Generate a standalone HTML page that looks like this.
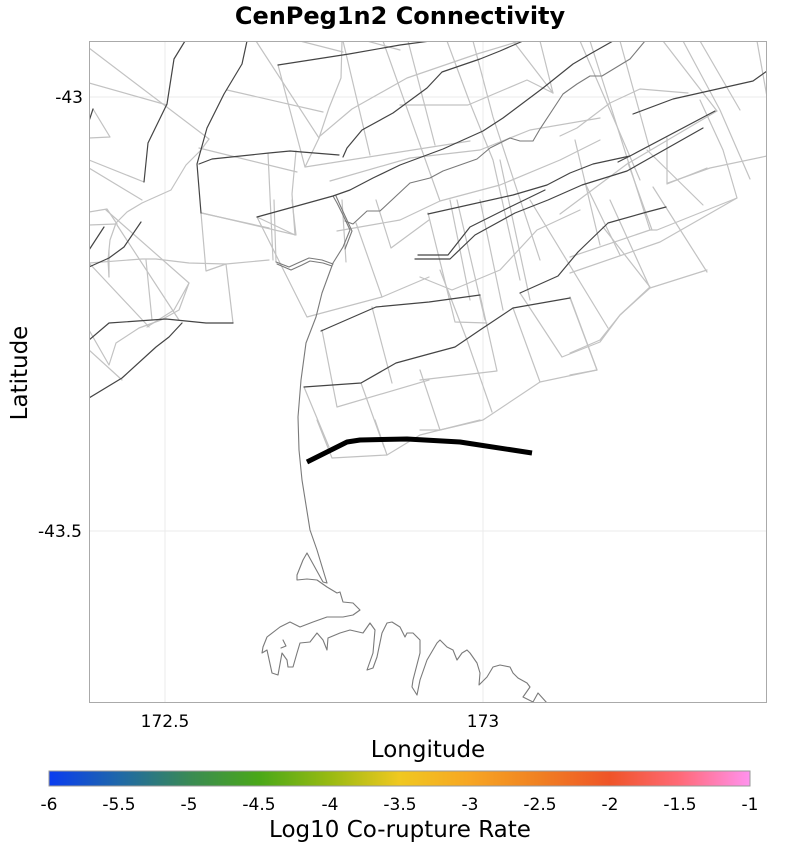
<!DOCTYPE html>
<html>
<head>
<meta charset="utf-8">
<style>
html,body{margin:0;padding:0;background:#fff;}
svg{display:block;}
text{font-family:"DejaVu Sans","Liberation Sans",sans-serif;fill:#000;}
</style>
</head>
<body>
<svg width="800" height="851" viewBox="0 0 800 851" xmlns="http://www.w3.org/2000/svg">
<defs>
<linearGradient id="cb" x1="0" y1="0" x2="1" y2="0">
<stop offset="0" stop-color="#0a3cf0"/>
<stop offset="0.1" stop-color="#1f68a8"/>
<stop offset="0.2" stop-color="#3a8a55"/>
<stop offset="0.3" stop-color="#4aa818"/>
<stop offset="0.4" stop-color="#98ba12"/>
<stop offset="0.5" stop-color="#f0c820"/>
<stop offset="0.6" stop-color="#f7a623"/>
<stop offset="0.7" stop-color="#f08022"/>
<stop offset="0.8" stop-color="#ef5428"/>
<stop offset="0.9" stop-color="#ff6a78"/>
<stop offset="1" stop-color="#ff92ee"/>
</linearGradient>
<clipPath id="pc"><rect x="89" y="41" width="678" height="662"/></clipPath>
</defs>

<!-- title -->
<text x="400" y="24" font-size="24" font-weight="bold" text-anchor="middle">CenPeg1n2 Connectivity</text>

<!-- plot area -->
<rect x="89" y="41" width="678" height="662" fill="#fff"/>
<g stroke="#ebebeb" stroke-width="1">
<line x1="165" y1="41" x2="165" y2="703"/>
<line x1="483" y1="41" x2="483" y2="703"/>
<line x1="89" y1="97" x2="767" y2="97"/>
<line x1="89" y1="531" x2="767" y2="531"/>
</g>

<g clip-path="url(#pc)" fill="none" stroke-linejoin="round" stroke-linecap="round">
<!-- light section lines -->
<g stroke="#c2c2c2" stroke-width="1.2">
<polyline points="89,48 209,139"/>
<polyline points="89,83 167,105"/>
<polyline points="93,109 110,137 89,138"/>
<polyline points="89,160 144,182"/>
<polyline points="89,168 142,200"/>
<polyline points="209,139 201,150 186,165 171,190 142,203 127,212 116,223 110,240 108,260 109,277"/>
<polyline points="89,225 116,224"/>
<polyline points="89,212 107,209 117,224"/>
<polyline points="227,90 323,112"/>
<polyline points="199,148 297,172"/>
<polyline points="256,41 319,138"/>
<polyline points="342,41 341,78 329,108 319,138 305,167"/>
<polyline points="278,65 305,167 400,152 470,141"/>
<polyline points="268,153 273,260"/>
<polyline points="296,151 292,194 295,235 257,217"/>
<polyline points="201,213 269,228"/>
<polyline points="201,213 206,271 226,264 269,260"/>
<polyline points="89,263 142,259 156,259 189,263 226,264 233,323"/>
<polyline points="106,210 189,283 174,310 147,327"/>
<polyline points="146,260 152,320"/>
<polyline points="117,225 179,320"/>
<polyline points="89,263 149,327"/>
<polyline points="89,330 109,365 116,343 139,328 161,320 179,310 189,283"/>
<polyline points="89,350 122,380"/>
<polyline points="109,250 109,277"/>
<polyline points="257,217 307,317 382,297 429,277"/>
<polyline points="274,200 276,262"/>
<polyline points="202,213 296,235 292,200"/>
<polyline points="342,200 346,262"/>
<polyline points="376,200 391,248 429,220"/>
<polyline points="322,330 337,407 429,380"/>
<polyline points="372,307 392,383"/>
<polyline points="304,387 329,447"/>
<polyline points="361,383 384,447"/>
<polyline points="356,223 382,297"/>
<polyline points="317,420 332,458 387,455 375,420"/>
<polyline points="387,455 420,435 480,420"/>
<polyline points="300,41 343,52"/>
<polyline points="367,41 400,50"/>
<polyline points="320,136 352,109 407,78 477,54 520,41"/>
<polyline points="343,41 370,155"/>
<polyline points="383,41 440,201"/>
<polyline points="408,41 435,145"/>
<polyline points="447,41 470,103 493,160 520,280"/>
<polyline points="473,41 493,117 540,260"/>
<polyline points="513,41 553,93"/>
<polyline points="540,41 553,93"/>
<polyline points="400,105 468,105 527,80 553,93"/>
<polyline points="580,41 613,117 640,180"/>
<polyline points="330,181 410,158 480,150 530,130 600,118"/>
<polyline points="337,231 400,220 440,201 500,185 560,160 600,140"/>
<!-- middle / right -->
<polyline points="428,213 455,322 487,323"/>
<polyline points="420,380 497,371 480,295"/>
<polyline points="420,277 452,290 500,270 537,230 580,210"/>
<polyline points="480,200 503,310"/>
<polyline points="457,200 485,320"/>
<polyline points="420,430 440,430 483,420 540,382 597,370"/>
<polyline points="440,430 420,370"/>
<polyline points="492,412 467,340 440,270"/>
<polyline points="540,382 513,308"/>
<polyline points="520,293 562,357 600,342 620,315 650,288 707,270"/>
<polyline points="597,370 570,298"/>
<polyline points="608,328 530,200"/>
<polyline points="650,288 610,200"/>
<polyline points="707,272 653,187"/>
<polyline points="560,214 627,164 717,111"/>
<polyline points="590,41 650,230"/>
<polyline points="575,140 600,245"/>
<polyline points="585,183 620,255"/>
<polyline points="628,163 652,230"/>
<polyline points="570,257 650,230 657,230 737,198 723,150 700,100"/>
<polyline points="647,150 703,205"/>
<polyline points="668,183 710,168 767,156"/>
<polyline points="683,41 720,110 750,179"/>
<polyline points="663,41 717,111"/>
<polyline points="570,273 660,242 737,198"/>
<polyline points="603,227 650,287"/>
<polyline points="650,287 620,315 600,340 570,353"/>
<polyline points="570,297 597,370 570,375"/>
<polyline points="560,136 577,128 610,103 640,89 688,93"/>
<polyline points="667,138 667,184 707,168"/>
<polyline points="757,41 767,97"/>
<polyline points="620,41 650,150"/>
<polyline points="700,41 740,110"/>
<polyline points="500,160 530,300"/>
<polyline points="450,200 470,300"/>
</g>

<!-- coastline -->
<g stroke="#7a7a7a" stroke-width="1.1">
<polyline points="333,196 337,203 343,215 350,230 343,247 333,263 322,293 316,317 306,343 301,380 298,417 299,450 302,480 310,530 317,550 327,583"/>
<polyline points="336,196 340,205 346,218 352,231 345,249"/>
<polyline points="276,262 289,267 300,262 309,258 322,260 333,264"/>
<polyline points="277,264 291,270 302,265 310,261 323,263 332,266"/>
<polyline points="345,221 353,224 367,211 380,211 410,183 430,178 443,171 477,159 490,148 510,138 520,141 533,141 540,129 563,94 577,84 590,76 602,76 630,59 645,41"/>
<polyline points="327,583 323,582 307,553 303,560 297,575 297,580 307,579 317,580 327,587 337,593 340,592 343,602 353,603 360,610 353,615 343,617 327,617 313,622 300,627 290,622 280,627 267,637 263,647 262,653 267,650 272,673 278,675 282,653 287,660 288,667 293,667 297,653 300,643 310,642 317,633 323,640 327,650 328,638 340,633 350,630 363,633 370,623 375,630 373,653 367,670 373,668 377,657 382,633 387,623 392,622 400,627 405,637 407,633 413,633 420,640 420,653 413,680 412,687 417,695 420,680 427,660 437,643 440,640 447,647 453,650 457,660 462,653 467,650 470,653 477,663 480,673 479,685 487,677 493,667 500,665 510,667 513,673 518,678 527,683 530,687 523,697 533,702 538,693 547,703"/>
<polyline points="283,640 286,646 281,648"/>
</g>

<!-- dark fault traces -->
<g stroke="#444" stroke-width="1.2">
<polyline points="185,41 174,59 167,104 148,143 144,182"/>
<polyline points="247,41 242,64 224,94 207,128 197,164 201,213"/>
<polyline points="199,164 212,159 269,153 290,151 302,152 339,155"/>
<polyline points="278,65 349,54 400,45 430,41"/>
<polyline points="257,217 333,196 350,190 373,178 400,165 443,149 483,131 503,118 543,88 573,64 590,54 613,41"/>
<polyline points="343,157 347,148 362,130 393,113 427,88 442,72 480,59 500,51 523,41"/>
<polyline points="428,214 513,195 547,185 570,173 593,164 630,156 715,111"/>
<polyline points="618,162 630,156"/>
<polyline points="415,259 450,259 475,235 515,213 548,200 582,185 627,171 703,128"/>
<polyline points="418,255 448,255 470,227 510,207 545,190"/>
<polyline points="633,114 673,99 753,81 767,71"/>
<polyline points="520,293 558,276 578,252 608,223 647,212 666,207"/>
<polyline points="321,331 376,307 429,302 480,295"/>
<polyline points="304,387 361,383 396,363 429,354 455,347 480,330 513,308 570,298"/>
<polyline points="89,250 104,227"/>
<polyline points="89,267 109,258 124,247 141,222"/>
<polyline points="89,340 109,323 166,319 206,323 233,323"/>
<polyline points="89,398 122,378 156,347 169,337 182,323"/>
<polyline points="89,121 93,109"/>
</g>

<!-- highlighted section -->
<polyline points="307,462 347,442 360,440 407,439 460,442 473,444 532,453" stroke="#000" stroke-width="5" stroke-linecap="butt"/>
</g>

<rect x="89.5" y="41.5" width="677" height="661" fill="none" stroke="#aaa" stroke-width="1"/>

<!-- axis tick labels -->
<text x="165" y="727" font-size="17" text-anchor="middle">172.5</text>
<text x="483" y="727" font-size="17" text-anchor="middle">173</text>
<text x="83" y="103" font-size="17" text-anchor="end">-43</text>
<text x="82" y="537" font-size="17" text-anchor="end">-43.5</text>

<!-- axis titles -->
<text x="428" y="757" font-size="23" text-anchor="middle">Longitude</text>
<text transform="translate(27,373) rotate(-90)" font-size="23" text-anchor="middle">Latitude</text>

<!-- colorbar -->
<rect x="49" y="771" width="701" height="15" fill="url(#cb)" stroke="#999" stroke-width="1"/>
<g font-size="17" text-anchor="middle">
<text x="49" y="810">-6</text>
<text x="119" y="810">-5.5</text>
<text x="189" y="810">-5</text>
<text x="259" y="810">-4.5</text>
<text x="330" y="810">-4</text>
<text x="400" y="810">-3.5</text>
<text x="470" y="810">-3</text>
<text x="540" y="810">-2.5</text>
<text x="610" y="810">-2</text>
<text x="680" y="810">-1.5</text>
<text x="750" y="810">-1</text>
</g>
<text x="400" y="837" font-size="23" text-anchor="middle">Log10 Co-rupture Rate</text>
</svg>
</body>
</html>
